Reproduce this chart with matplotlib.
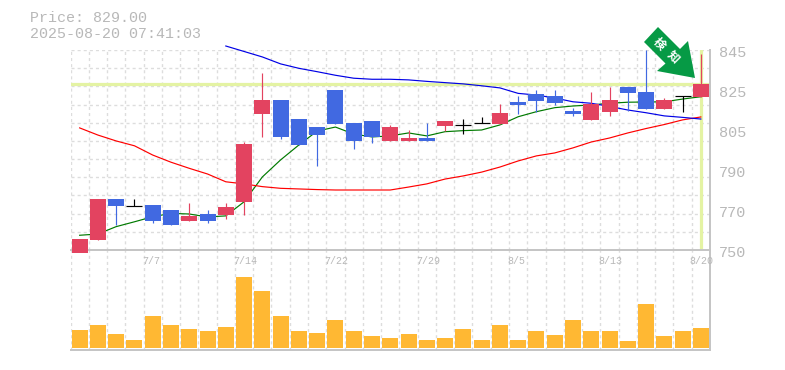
import matplotlib
matplotlib.use('Agg')
import matplotlib.pyplot as plt
from matplotlib.patches import Polygon

plt.rcParams['font.family'] = ['Liberation Mono', 'DejaVu Sans Mono']

opens = [748.7, 754.9, 774.2, 771.0, 771.4, 769.0, 763.9, 767.1, 766.6, 772.9,
         814.6, 821.3, 812.2, 808.4, 826.0, 810.3, 811.3, 801.8, 801.8, 803.2,
         808.9, 809.4, 810.2, 809.9, 820.3, 824.1, 823.2, 816.0, 811.8, 815.6,
         827.4, 825.0, 817.0, 823.2, 822.7]
closes = [755.2, 774.2, 771.0, 771.0, 763.9, 762.0, 766.2, 763.9, 770.4, 800.4,
          821.3, 803.7, 799.9, 804.6, 809.9, 801.8, 803.7, 808.4, 803.2, 801.8,
          811.3, 809.4, 810.2, 815.1, 818.9, 820.8, 819.8, 814.6, 819.4, 821.3,
          824.6, 817.0, 821.3, 823.2, 829.0]
highs = [755.2, 774.2, 774.2, 774.2, 771.4, 769.0, 772.2, 769.0, 772.2, 801.3,
         834.1, 821.3, 812.2, 808.4, 826.0, 810.3, 811.3, 809.4, 807.0, 810.3,
         811.3, 812.2, 813.2, 819.4, 823.2, 826.0, 826.0, 817.5, 825.0, 827.4,
         827.4, 845.0, 822.2, 823.2, 843.1]
lows = [748.7, 754.9, 761.9, 771.0, 763.0, 762.0, 763.9, 763.0, 764.9, 766.8,
        803.7, 802.7, 799.9, 789.9, 809.9, 798.0, 800.8, 801.8, 801.8, 801.8,
        806.5, 805.0, 810.2, 809.9, 814.6, 815.6, 818.9, 813.7, 811.8, 813.7,
        816.0, 817.0, 817.0, 815.6, 822.7]
ma_short = [757.0, 757.6, 761.1, 763.4, 765.8, 767.4, 767.1, 765.7, 766.2, 772.9,
            784.7, 792.8, 799.9, 806.5, 808.4, 805.1, 803.7, 804.2, 805.6, 804.2,
            806.2, 806.7, 807.0, 809.4, 813.3, 815.7, 817.6, 818.4, 818.9, 819.7,
            820.2, 820.3, 820.4, 821.7, 822.8]
ma_long = [808.0, 804.6, 801.8, 799.5, 795.1, 791.7, 788.8, 786.1, 782.4, 781.4,
           780.1, 779.3, 779.0, 778.7, 778.5, 778.5, 778.5, 778.5, 779.9, 781.4,
           783.7, 785.2, 787.0, 789.4, 792.3, 794.7, 796.1, 798.5, 801.3, 803.2,
           805.6, 807.7, 809.6, 811.8, 813.2]
# this one only starts at the ninth candle
ma_mid_start = 8
ma_mid = [846.9, 844.3, 841.7, 838.4, 836.3, 834.7, 833.0, 831.6, 831.1, 831.1,
          830.8, 830.1, 829.5, 828.9, 828.0, 827.0, 824.4, 823.6, 822.2, 820.4,
          819.7, 818.2, 816.5, 815.2, 813.7, 813.0, 812.2]
volumes = [18, 23, 14, 8, 32, 23, 19, 17, 21, 71, 57, 32, 17, 15, 28, 17, 12, 10,
           14, 8, 10, 19, 8, 23, 8, 17, 13, 28, 17, 17, 7, 44, 12, 17, 20]
tick_pos = [4, 9, 14, 19, 24, 29, 34]
tick_labels = ['7/7', '7/14', '7/22', '7/29', '8/5', '8/13', '8/20']
price_ticks = [750, 769, 788, 807, 826, 845]
price_labels = ['750', '770', '790', '805', '825', '845']
current_price = 829.0

W, H = 785, 370
BORDER = '#c4c4c4'
GRID = '#dddddd'
TEXT = '#b8b8b8'
UP = '#e34360'
DOWN = '#4169e1'
HILITE = '#e4f3a3'
BAR_W = 0.876
DASH = (0, (2.2, 2.2))
xs = list(range(len(opens)))


def box(x0, y0, x1, y1):
    # pixel box measured from top left -> figure fraction
    return [x0 / W, 1 - y1 / H, (x1 - x0) / W, (y1 - y0) / H]


fig = plt.figure(figsize=(W / 100, H / 100), dpi=100)
ax = fig.add_axes(box(70.5, 50, 710, 250))
vax = fig.add_axes(box(70.5, 250, 710, 350), sharex=ax)
ax.set_zorder(2)
ax.patch.set_visible(False)

ax.set_xlim(-0.5, 34.5)
ax.set_ylim(750, 845)
vax.set_ylim(-2, 98)

for a in (ax, vax):
    a.set_xticks([i - 0.5 for i in range(36)])
    a.set_yticks([])
    a.tick_params(length=0, labelbottom=False, labelleft=False)
    a.grid(True, axis='x', color=GRID, lw=1.0, ls=DASH)
    a.set_axisbelow(True)
    for name in ('top', 'left'):
        a.spines[name].set_visible(False)
    for name in ('bottom', 'right'):
        a.spines[name].set_color(BORDER)
        a.spines[name].set_linewidth(1.4)

# rows of the price grid do not line up with the labels
for i in range(12):
    ax.axhline(750 + i * 95 / 11, color=GRID, lw=1.0, ls=DASH, zorder=0.5)

ax.axhline(current_price, color=HILITE, lw=2.3, zorder=1)
ax.axvline(xs[-1], color=HILITE, lw=2.3, zorder=1)

# moving averages go under the candles
ax.plot(xs, ma_short, color='#007a00', lw=0.85, zorder=1.5)
ax.plot(xs, ma_long, color='#ff0000', lw=0.85, zorder=1.5)
ax.plot(xs[ma_mid_start:], ma_mid, color='#0000e6', lw=0.85, zorder=1.5, clip_on=False)

for x, o, c, h, l in zip(xs, opens, closes, highs, lows):
    if c > o:
        col = UP
    elif c < o:
        col = DOWN
    else:
        col = 'black'
    ax.vlines(x, l, h, color=col, lw=0.85, zorder=3)
    if c == o:
        ax.hlines(c, x - BAR_W / 2, x + BAR_W / 2, color=col, lw=0.85, zorder=3)
    else:
        # first candle hangs below the axis in the original
        ax.bar(x, abs(c - o), BAR_W, bottom=min(o, c), color=col, zorder=3, clip_on=False)

vax.bar(xs, volumes, BAR_W, color='#ffb833', zorder=2)

for v, lab in zip(price_ticks, price_labels):
    ax.annotate(lab, xy=(1, v), xycoords=ax.get_yaxis_transform(), xytext=(9, -3),
                textcoords='offset pixels', fontsize=11, color=TEXT, va='center', ha='left')

for x, lab in zip(tick_pos, tick_labels):
    vax.annotate(lab, xy=(x, 1), xycoords=vax.get_xaxis_transform(), xytext=(-11, -11.5),
                 textcoords='offset pixels', fontsize=7.2, color=TEXT, va='center', ha='left')

fig.text(30 / W, 1 - 18.5 / H, 'Price: 829.00', fontsize=10.8, color=TEXT, va='center')
fig.text(30 / W, 1 - 33.5 / H, '2025-08-20 07:41:03', fontsize=10.8, color=TEXT, va='center')

# green signal arrow, pixel outline
arrow_px = [(658, 27), (644, 42), (665.5, 63.5), (657, 71), (695, 78), (688, 41), (680, 49)]
fig.add_artist(Polygon([(x / W, 1 - y / H) for x, y in arrow_px], closed=True,
                       transform=fig.transFigure, facecolor='#069a45', edgecolor='none',
                       zorder=5))
for ch, px, py in [('検', 659, 44), ('知', 673, 57)]:
    fig.text(px / W, 1 - py / H, ch, fontsize=8.5, color='white', rotation=-45,
             ha='center', va='center', rotation_mode='anchor', weight='bold',
             family=['Noto Sans CJK JP', 'DejaVu Sans'], zorder=6)

fig.savefig('out.png', dpi=100)
